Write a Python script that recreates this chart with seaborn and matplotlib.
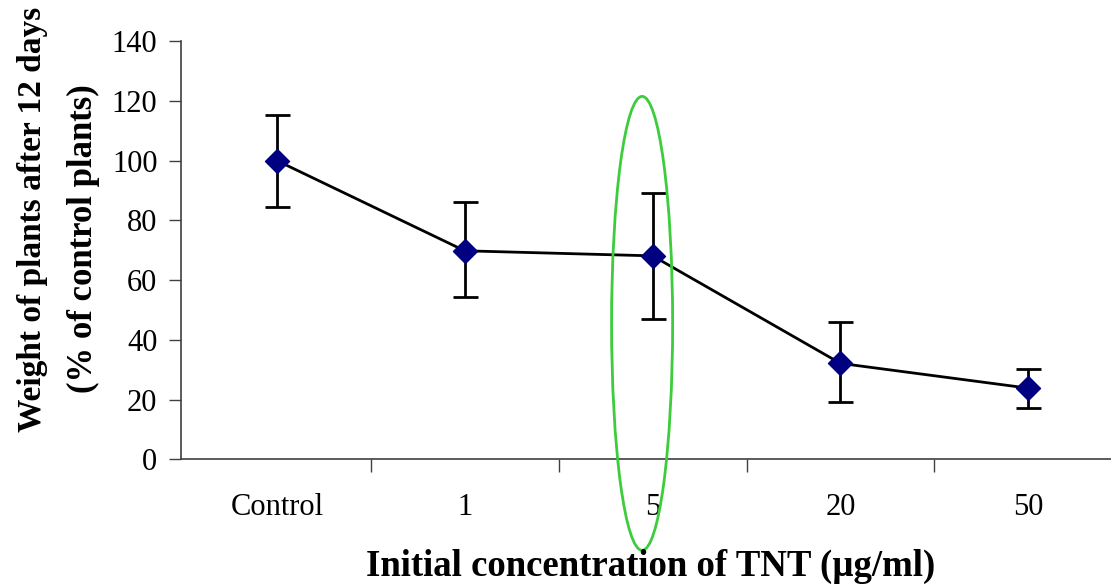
import matplotlib
matplotlib.use("Agg")
import matplotlib.pyplot as plt
import seaborn as sns
import pandas as pd
from matplotlib.patches import Ellipse

categories = ["Control", "1", "5", "20", "50"]
weight = [100, 69.8, 68.1, 32.1, 23.8]
err_upper = [115.4, 86.0, 89.2, 45.9, 30.2]
err_lower = [84.3, 54.2, 47.0, 19.1, 17.2]

y_ticks = [0, 20, 40, 60, 80, 100, 120, 140]
x_label = "Initial concentration of TNT (µg/ml)"
y_label_1 = "Weight of plants after 12 days"
y_label_2 = "(% of control plants)"

sns.set_style("white")
plt.rcParams["font.family"] = ["Liberation Serif", "DejaVu Serif"]
plt.rcParams["text.color"] = "black"
plt.rcParams["xtick.color"] = "black"
plt.rcParams["ytick.color"] = "black"
plt.rcParams["xtick.bottom"] = True
plt.rcParams["ytick.left"] = True

df = pd.DataFrame({"conc": categories, "weight": weight})

fig = plt.figure(figsize=(11.11, 5.88), dpi=100)
ax = fig.add_axes([0.163, 0.219, 0.837, 0.711])

sns.lineplot(data=df, x="conc", y="weight", color="black", lw=2, ax=ax, sort=False)
yerr = [[w - lo for w, lo in zip(weight, err_lower)],
        [hi - w for w, hi in zip(weight, err_upper)]]
ax.errorbar(categories, weight, yerr=yerr, fmt="none", ecolor="black",
            elinewidth=2, capsize=9, capthick=2, zorder=3)
sns.scatterplot(data=df, x="conc", y="weight", marker="D", s=150,
                color="#000080", edgecolor="#000080", ax=ax, zorder=4)

ax.set_ylim(0, 140)
ax.set_xlim(-0.51, 4.44)
ax.set_yticks(y_ticks)
ax.set_yticklabels([str(t) for t in y_ticks], fontsize=22)
ax.set_xticks(range(len(categories)))
ax.set_xticklabels(categories, fontsize=22)
ax.set_xticks([i + 0.5 for i in range(0, len(categories) - 1)], minor=True)
ax.tick_params(axis="x", which="major", bottom=True, length=0, pad=24)
ax.tick_params(axis="x", which="minor", bottom=True, length=9, width=1,
               color="#404040", direction="out")
ax.tick_params(axis="y", which="major", left=True, length=9, width=1,
               color="#404040", direction="out", pad=8)
ax.set_xlabel("")
ax.set_ylabel("")
for s in ["top", "right"]:
    ax.spines[s].set_visible(False)
for s in ["left", "bottom"]:
    ax.spines[s].set_color("#404040")
    ax.spines[s].set_linewidth(1.2)

ell = Ellipse((1.944, 45.5), width=0.325, height=152, fill=False,
              edgecolor="#3ccc3c", lw=2, clip_on=False, zorder=5)
ax.add_patch(ell)

fig.text(651 / 1111, 1 - 566 / 588, x_label, ha="center", va="center",
         fontsize=26.5, fontweight="bold")
fig.text(33 / 1111, 1 - 219 / 588, y_label_1, ha="center", va="center",
         rotation=90, fontsize=24, fontweight="bold")
fig.text(83 / 1111, 1 - 239 / 588, y_label_2, ha="center", va="center",
         rotation=90, fontsize=25, fontweight="bold")

fig.savefig("out.png", dpi=100)
